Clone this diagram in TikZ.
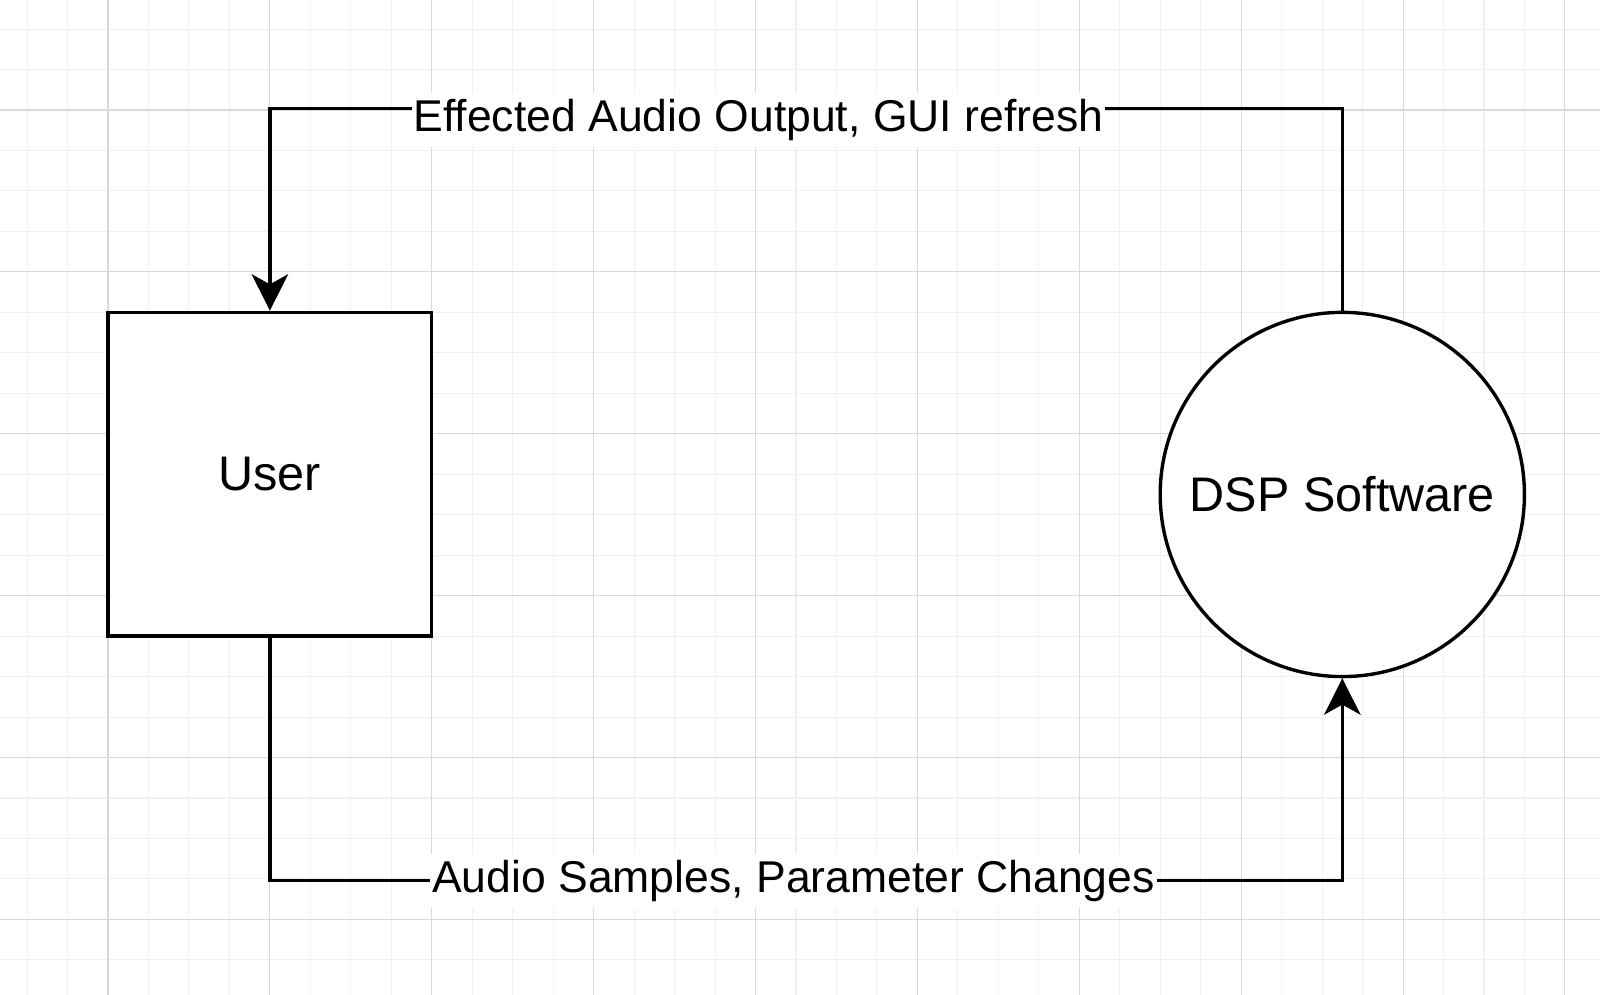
\documentclass[tikz,border=0pt]{standalone}
\usepackage{fontspec}
\setmainfont{Liberation Sans}
\usetikzlibrary{arrows.meta}

\begin{document}
\begin{tikzpicture}[x=0.4mm, y=0.4mm, line width=0.95pt,
    >={Stealth[length=3.6mm,width=3.6mm,inset=1mm]},
    entity/.style={draw, fill=white, inner sep=0pt, font=\fontsize{13.66}{16}\selectfont},
    flowlabel/.style={fill=white, inner xsep=0.5pt, inner ysep=0.6mm, font=\fontsize{12.52}{15}\selectfont}]
    \useasboundingbox (-26.69,-218.68) rectangle (368.67,27.18);
    % background grid
    \draw[gray!12, line width=0.3pt, step=10] (-26.69,-218.68) grid (368.67,27.18);
    \draw[gray!30, line width=0.3pt, step=40] (-26.69,-218.68) grid (368.67,27.18);
    \node[entity, minimum width=32mm, minimum height=32mm] (user) at (40,-90) {User};
    \node[entity, circle, minimum size=36mm] (dsp) at (305,-95) {DSP Software};
    \draw[->] (dsp.north) -- ++(0,50) -| (user.north);
    \draw[->] (user.south) -- ++(0,-60) -| (dsp.south);
    \node[flowlabel, anchor=base] (outlbl) at (160.7,-5.36) {Effected Audio Output, GUI refresh};
    \node[flowlabel, anchor=base] (inlbl) at (169.4,-193.3) {Audio Samples, Parameter Changes};
\end{tikzpicture}
\end{document}
